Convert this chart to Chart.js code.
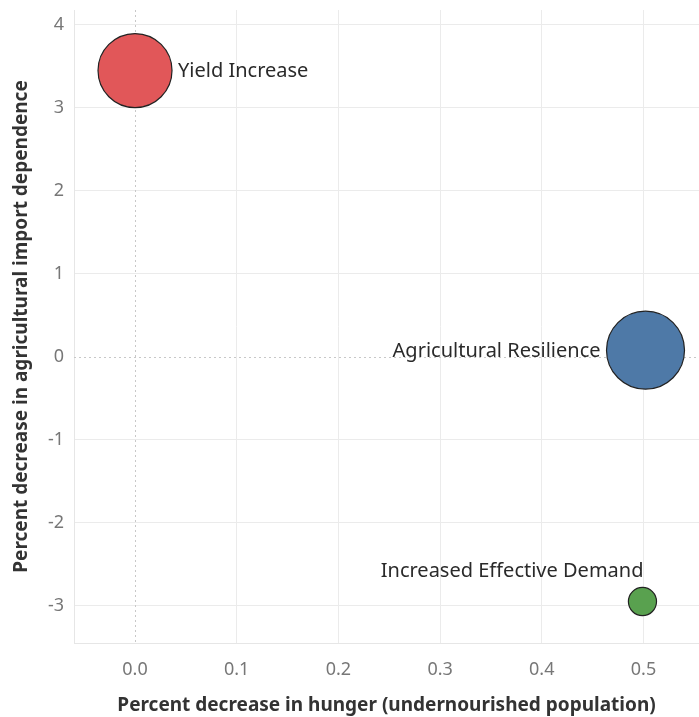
<!DOCTYPE html>
<html>
<head>
<meta charset="utf-8">
<script src="https://cdn.jsdelivr.net/npm/chart.js@4/dist/chart.umd.min.js"></script>
<style>
  html, body { margin: 0; padding: 0; background: #fff; }
  #wrap { width: 699px; height: 717px; }
</style>
</head>
<body>
<div id="wrap"><canvas id="c" width="699" height="717"></canvas></div>
<script>
// Scenarios and their outcomes
const scenarios = ['Yield Increase', 'Agricultural Resilience', 'Increased Effective Demand'];
const hungerDecrease = [0.0, 0.502, 0.499];       // x: percent decrease in hunger
const importDecrease = [3.45, 0.08, -2.95];       // y: percent decrease in import dependence
const bubbleSize = [0.9, 1.0, 0.13];              // relative size measure
const colors = ['#e15759', '#4e79a7', '#59a14f'];
const labelPlacement = ['right', 'left', 'above'];

const xTicks = [0.0, 0.1, 0.2, 0.3, 0.4, 0.5];
const yTicks = [-3, -2, -1, 0, 1, 2, 3, 4];

const MAX_R = 39;
const FONT = '"Noto Sans", "Open Sans", sans-serif';

const points = scenarios.map((name, i) => ({
  x: hungerDecrease[i],
  y: importDecrease[i],
  r: MAX_R * Math.sqrt(bubbleSize[i] / Math.max(...bubbleSize)),
  name,
  place: labelPlacement[i]
}));

// Dotted zero reference lines
const zeroLines = {
  id: 'zeroLines',
  beforeDatasetsDraw(chart) {
    const { ctx, chartArea: a, scales: { x, y } } = chart;
    ctx.save();
    ctx.strokeStyle = '#c8c8c8';
    ctx.lineWidth = 1;
    ctx.setLineDash([2, 3]);
    const x0 = Math.round(x.getPixelForValue(0)) + 0.5;
    const y0 = Math.round(y.getPixelForValue(0)) + 0.5;
    ctx.beginPath();
    ctx.moveTo(x0, a.top); ctx.lineTo(x0, a.bottom);
    ctx.moveTo(a.left, y0); ctx.lineTo(a.right, y0);
    ctx.stroke();
    ctx.restore();
  }
};

// Scenario name next to each bubble
const bubbleLabels = {
  id: 'bubbleLabels',
  afterDatasetsDraw(chart) {
    const { ctx } = chart;
    ctx.save();
    ctx.font = '20px ' + FONT;
    ctx.fillStyle = '#2a2a2a';
    chart.data.datasets.forEach((ds, di) => {
      const meta = chart.getDatasetMeta(di);
      meta.data.forEach((el, i) => {
        const p = ds.data[i];
        const r = el.options.radius;
        if (p.place === 'right') {
          ctx.textAlign = 'left'; ctx.textBaseline = 'middle';
          ctx.fillText(p.name, el.x + r + 6, el.y + 1);
        } else if (p.place === 'left') {
          ctx.textAlign = 'right'; ctx.textBaseline = 'middle';
          ctx.fillText(p.name, el.x - r - 6, el.y + 1);
        } else {
          ctx.textAlign = 'right'; ctx.textBaseline = 'middle';
          ctx.fillText(p.name, el.x + 1, el.y - r - 16);
        }
      });
    });
    ctx.restore();
  }
};

new Chart(document.getElementById('c'), {
  type: 'bubble',
  data: {
    datasets: [{
      data: points,
      backgroundColor: colors,
      borderColor: '#222222',
      borderWidth: 1.2,
      hoverRadius: 0
    }]
  },
  options: {
    responsive: false,
    animation: false,
    events: [],
    layout: { autoPadding: false, padding: { top: 10, right: 0, bottom: 0, left: 0 } },
    plugins: { legend: { display: false }, tooltip: { enabled: false } },
    scales: {
      x: {
        type: 'linear',
        min: -0.06,
        max: 0.5546,
        afterBuildTicks: s => { s.ticks = xTicks.map(v => ({ value: v })); },
        afterFit: s => { s.height = 74; s.paddingLeft = 0; s.paddingRight = 0; },
        grid: {
          color: c => (c.tick && c.tick.value === 0 ? 'rgba(0,0,0,0)' : '#ebebeb'),
          drawTicks: false
        },
        border: { display: true, color: '#e6e6e6' },
        ticks: {
          padding: 16,
          color: '#777777',
          font: { family: FONT, size: 18 },
          callback: v => Number(v).toFixed(1)
        },
        title: {
          display: true,
          text: 'Percent decrease in hunger (undernourished population)',
          color: '#333333',
          font: { family: FONT, size: 19, weight: 'bold' },
          padding: { top: 0, bottom: 0 }
        }
      },
      y: {
        type: 'linear',
        min: -3.45,
        max: 4.18,
        afterBuildTicks: s => { s.ticks = yTicks.map(v => ({ value: v })); },
        afterFit: s => { s.width = 74; s.paddingTop = 0; s.paddingBottom = 0; },
        grid: {
          color: c => (c.tick && c.tick.value === 0 ? 'rgba(0,0,0,0)' : '#ebebeb'),
          drawTicks: false
        },
        border: { display: true, color: '#e6e6e6' },
        ticks: {
          padding: 10,
          color: '#777777',
          font: { family: FONT, size: 18 },
          callback: v => String(v)
        },
        title: {
          display: true,
          text: 'Percent decrease in agricultural import dependence',
          color: '#333333',
          font: { family: FONT, size: 19, weight: 'bold' },
          padding: { top: 10, bottom: 0 }
        }
      }
    }
  },
  plugins: [zeroLines, bubbleLabels]
});
</script>
</body>
</html>
